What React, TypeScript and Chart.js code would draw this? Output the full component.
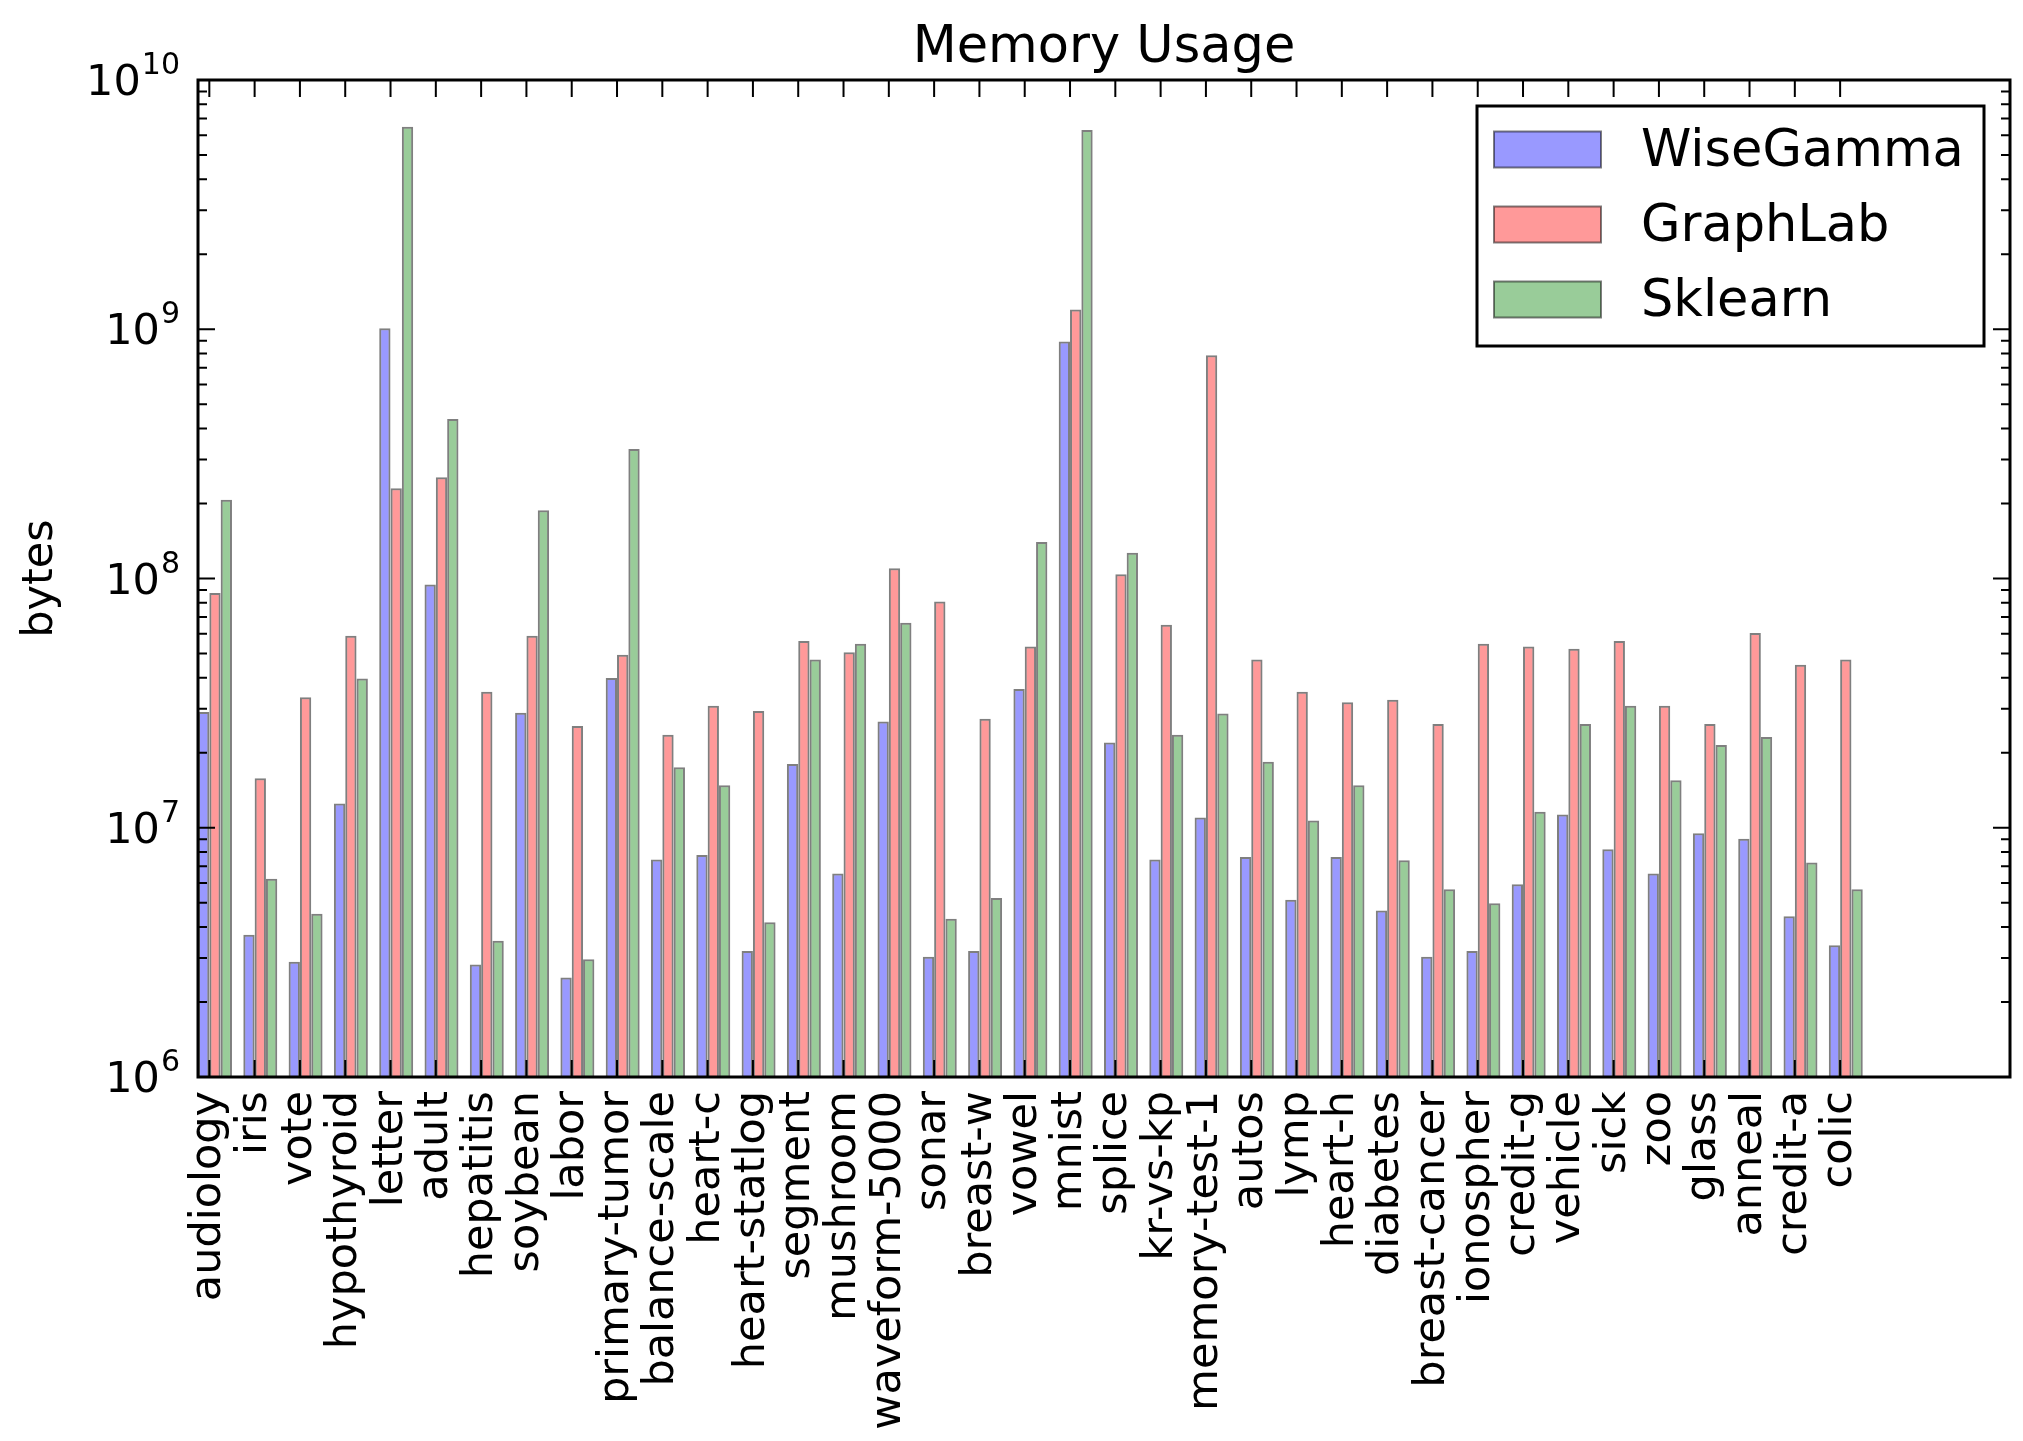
import { useEffect, useRef } from 'react';
import { Chart, registerables } from 'chart.js';

Chart.register(...registerables);

// Datasets along the x axis
const categories = [
  'audiology', 'iris', 'vote', 'hypothyroid', 'letter', 'adult', 'hepatitis', 'soybean', 'labor',
  'primary-tumor', 'balance-scale', 'heart-c', 'heart-statlog', 'segment', 'mushroom', 'waveform-5000',
  'sonar', 'breast-w', 'vowel', 'mnist', 'splice', 'kr-vs-kp', 'memory-test-1', 'autos', 'lymp',
  'heart-h', 'diabetes', 'breast-cancer', 'ionospher', 'credit-g', 'vehicle', 'sick', 'zoo', 'glass',
  'anneal', 'credit-a', 'colic',
];

// Memory usage in bytes per dataset
const wiseGamma = [
  2.91e7, 3.72e6, 2.9e6, 1.25e7, 1.01e9, 9.47e7, 2.83e6, 2.89e7, 2.51e6, 3.99e7, 7.45e6, 7.77e6, 3.2e6,
  1.8e7, 6.55e6, 2.67e7, 3.04e6, 3.2e6, 3.6e7, 8.93e8, 2.2e7, 7.45e6, 1.1e7, 7.63e6, 5.14e6, 7.63e6,
  4.66e6, 3.04e6, 3.2e6, 5.94e6, 1.13e7, 8.2e6, 6.55e6, 9.5e6, 9.04e6, 4.41e6, 3.38e6,
];
const graphLab = [
  8.75e7, 1.58e7, 3.34e7, 5.89e7, 2.3e8, 2.55e8, 3.51e7, 5.89e7, 2.56e7, 4.94e7, 2.36e7, 3.09e7, 2.94e7,
  5.61e7, 5.06e7, 1.1e8, 8.08e7, 2.74e7, 5.34e7, 1.2e9, 1.04e8, 6.53e7, 7.87e8, 4.73e7, 3.51e7, 3.19e7,
  3.26e7, 2.61e7, 5.47e7, 5.34e7, 5.22e7, 5.61e7, 3.09e7, 2.61e7, 6.04e7, 4.51e7, 4.73e7,
];
const sklearn = [
  2.07e8, 6.24e6, 4.52e6, 3.97e7, 6.49e9, 4.36e8, 3.52e6, 1.88e8, 2.97e6, 3.31e8, 1.75e7, 1.48e7, 4.18e6,
  4.73e7, 5.47e7, 6.65e7, 4.31e6, 5.23e6, 1.4e8, 6.3e9, 1.27e8, 2.36e7, 2.87e7, 1.84e7, 1.07e7, 1.48e7,
  7.4e6, 5.66e6, 4.98e6, 1.16e7, 2.61e7, 3.09e7, 1.55e7, 2.15e7, 2.31e7, 7.26e6, 5.66e6,
];

const seriesNames = ['WiseGamma', 'GraphLab', 'Sklearn'];
const seriesValues = [wiseGamma, graphLab, sklearn];
const seriesColors = ['rgba(0, 0, 255, 0.4)', 'rgba(255, 0, 0, 0.4)', 'rgba(0, 128, 0, 0.4)'];
const edgeColor = 'rgba(0, 0, 0, 0.5)';

// Log axis decades (exponents) shown as 10^k labels
const yDecades = [6, 7, 8, 9, 10];

const titleText = 'Memory Usage';
const yAxisTitle = 'bytes';

const BAR_WIDTH = 0.25;
const X_MAX = 40;
const FONT = '"DejaVu Sans", Verdana, sans-serif';

const W = 2023;
const H = 1441;

// Draws the boxed axes, inward ticks, mathtext-style labels, title and legend
const axesDecor = {
  id: 'axesDecor',
  beforeDraw(chart: any) {
    const { ctx } = chart;
    ctx.save();
    ctx.fillStyle = '#ffffff';
    ctx.fillRect(0, 0, chart.width, chart.height);
    ctx.restore();
  },
  afterDraw(chart: any) {
    const { ctx, chartArea: a, scales } = chart;
    const xs = scales.x;
    const ys = scales.y;
    ctx.save();

    // tick marks pointing inward on all four sides
    ctx.strokeStyle = '#000';
    ctx.lineWidth = 2;
    ctx.beginPath();
    xs.ticks.forEach((t: any) => {
      const px = xs.getPixelForValue(t.value);
      ctx.moveTo(px, a.bottom);
      ctx.lineTo(px, a.bottom - 17);
      ctx.moveTo(px, a.top);
      ctx.lineTo(px, a.top + 17);
    });
    const yTick = (py: number, len: number) => {
      ctx.moveTo(a.left, py);
      ctx.lineTo(a.left + len, py);
      ctx.moveTo(a.right, py);
      ctx.lineTo(a.right - len, py);
    };
    yDecades.forEach((k, idx) => {
      yTick(ys.getPixelForValue(Math.pow(10, k)), 17);
      if (idx < yDecades.length - 1) {
        for (let m = 2; m <= 9; m++) yTick(ys.getPixelForValue(m * Math.pow(10, k)), 9);
      }
    });
    ctx.stroke();

    // frame
    ctx.lineWidth = 3;
    ctx.strokeRect(a.left, a.top, a.right - a.left, a.bottom - a.top);

    ctx.fillStyle = '#000';

    // category labels, rotated
    ctx.font = `43px ${FONT}`;
    xs.ticks.forEach((t: any, i: number) => {
      const px = xs.getPixelForValue(t.value);
      ctx.save();
      ctx.translate(px, a.bottom + 14);
      ctx.rotate(-Math.PI / 2);
      ctx.textAlign = 'right';
      ctx.textBaseline = 'middle';
      ctx.fillText(categories[i], 0, 0);
      ctx.restore();
    });

    // 10^k labels
    ctx.textAlign = 'left';
    ctx.textBaseline = 'alphabetic';
    yDecades.forEach((k) => {
      const py = ys.getPixelForValue(Math.pow(10, k));
      const sup = String(k);
      ctx.font = `30px ${FONT}`;
      const supW = ctx.measureText(sup).width;
      ctx.font = `43px ${FONT}`;
      const baseW = ctx.measureText('10').width;
      const right = a.left - 18;
      const x0 = right - supW - baseW - 1;
      ctx.fillText('10', x0, py + 15);
      ctx.font = `30px ${FONT}`;
      ctx.fillText(sup, x0 + baseW + 1, py - 6);
    });

    // axis title
    ctx.save();
    ctx.font = `43px ${FONT}`;
    ctx.translate(52, (a.top + a.bottom) / 2);
    ctx.rotate(-Math.PI / 2);
    ctx.textAlign = 'center';
    ctx.textBaseline = 'alphabetic';
    ctx.fillText(yAxisTitle, 0, 0);
    ctx.restore();

    // chart title
    ctx.font = `51px ${FONT}`;
    ctx.textAlign = 'center';
    ctx.fillText(titleText, (a.left + a.right) / 2, a.top - 18);

    // legend
    const legend = { left: 1477, top: a.top + 26, right: a.right - 26, bottom: a.top + 266 };
    ctx.fillStyle = '#fff';
    ctx.fillRect(legend.left, legend.top, legend.right - legend.left, legend.bottom - legend.top);
    ctx.lineWidth = 3;
    ctx.strokeStyle = '#000';
    ctx.strokeRect(legend.left, legend.top, legend.right - legend.left, legend.bottom - legend.top);
    ctx.font = `51px ${FONT}`;
    ctx.textAlign = 'left';
    chart.data.datasets.forEach((ds: any, i: number) => {
      const cy = legend.top + 43.5 + i * 75;
      ctx.fillStyle = ds.backgroundColor;
      ctx.fillRect(legend.left + 17, cy - 18, 107, 36);
      ctx.lineWidth = 2;
      ctx.strokeStyle = edgeColor;
      ctx.strokeRect(legend.left + 17, cy - 18, 107, 36);
      ctx.fillStyle = '#000';
      ctx.fillText(ds.label, legend.left + 164, cy + 16);
    });

    ctx.restore();
  },
};

export default function App() {
  const canvasRef = useRef<HTMLCanvasElement>(null);

  useEffect(() => {
    if (!canvasRef.current) return;
    const chart = new Chart(canvasRef.current, {
      type: 'bar',
      data: {
        datasets: seriesNames.map((name, s) => ({
          label: name,
          data: seriesValues[s].map((v, i) => ({ x: i + 1.5 * BAR_WIDTH, y: v })),
          backgroundColor: seriesColors[s],
          borderColor: edgeColor,
          borderWidth: 2,
          borderSkipped: 'start',
          categoryPercentage: 3 * BAR_WIDTH,
          barPercentage: 1,
        })),
      },
      options: {
        animation: false,
        responsive: false,
        devicePixelRatio: 1,
        events: [],
        layout: { padding: { left: 198, top: 80, right: W - 2010, bottom: H - 1077 } },
        plugins: {
          legend: { display: false },
          title: { display: false },
          tooltip: { enabled: false },
        },
        scales: {
          x: {
            type: 'linear',
            display: false,
            offset: false,
            grid: { offset: false },
            min: 0,
            max: X_MAX,
            afterBuildTicks: (scale: any) => {
              scale.ticks = categories.map((_, i) => ({ value: i + BAR_WIDTH }));
            },
          },
          y: {
            type: 'logarithmic',
            display: false,
            min: Math.pow(10, yDecades[0]),
            max: Math.pow(10, yDecades[yDecades.length - 1]),
          },
        },
      },
      plugins: [axesDecor],
    } as any);
    return () => chart.destroy();
  }, []);

  return (
    <div style={{ position: 'fixed', left: 0, top: 0, width: W, height: H, background: '#fff' }}>
      <canvas ref={canvasRef} width={W} height={H} style={{ display: 'block', width: W, height: H }} />
    </div>
  );
}
